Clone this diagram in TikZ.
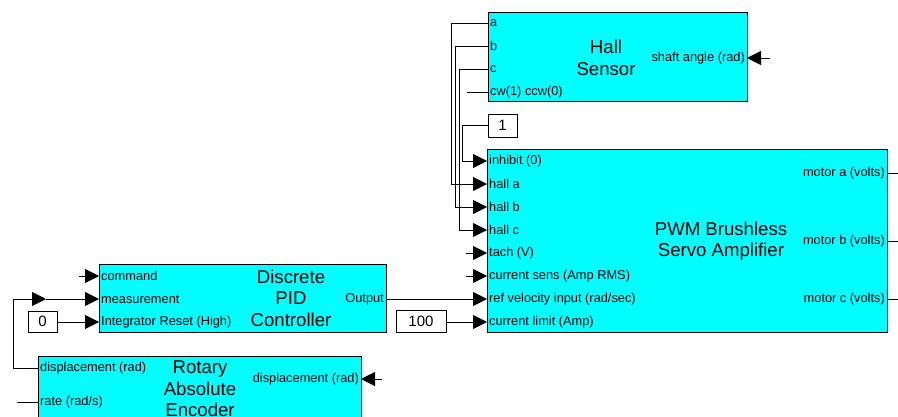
\documentclass[tikz,border=0pt]{standalone}
\usepackage{fontspec}
\setmainfont{Liberation Sans}
\usetikzlibrary{arrows.meta}
\definecolor{blockcyan}{RGB}{0,255,255}
\begin{document}
\begin{tikzpicture}[x=1pt,y=-1pt,
  block/.style={draw=black, fill=blockcyan, line width=0.9pt, inner sep=0pt, anchor=north west},
  constbox/.style={draw=black, fill=white, line width=0.9pt, inner sep=0pt, font=\fontsize{15}{17}\selectfont},
  plabel/.style={inner sep=0pt, font=\fontsize{12.8}{14}\selectfont},
  btitle/.style={inner sep=0pt, align=center, font=\fontsize{18.6}{21.5}\selectfont},
  wire/.style={draw=black, line width=0.9pt},
  inarrow/.style={wire, -{Triangle[length=14pt,width=14pt]}}
]
\clip (0,0) rectangle (898,416);
\useasboundingbox (0,0) rectangle (898,416);
\fill[white] (0,0) rectangle (898,416);

% ---------- Hall Sensor ----------
\node[block, minimum width=259pt, minimum height=89pt] (hall) at (488,12) {};
\node[btitle] (hallT) at (606,58) {Hall\\Sensor};
\coordinate (hA) at (488,23);
\coordinate (hB) at (488,46);
\coordinate (hC) at (488,69);
\coordinate (hCW) at (488,92);
\coordinate (hS) at (747,58);
\node[plabel, anchor=west] (lhA) at ([xshift=2pt]hA) {a};
\node[plabel, anchor=west] (lhB) at ([xshift=2pt]hB) {b};
\node[plabel, anchor=west] (lhC) at ([xshift=2pt]hC) {c};
\node[plabel, anchor=west] (lhCW) at ([xshift=2pt]hCW) {cw(1) ccw(0)};
\node[plabel, anchor=east] (lhS) at ([xshift=-2pt]hS) {shaft angle (rad)};

% ---------- PWM amplifier ----------
\node[block, minimum width=400pt, minimum height=183pt] (pwm) at (487,149) {};
\node[btitle] (pwmT) at (721,241) {PWM Brushless\\Servo Amplifier};
\coordinate (pInh) at (487,161);
\coordinate (pHa) at (487,184);
\coordinate (pHb) at (487,207);
\coordinate (pHc) at (487,230);
\coordinate (pTach) at (487,253);
\coordinate (pCs) at (487,276);
\coordinate (pRef) at (487,299);
\coordinate (pLim) at (487,322);
\coordinate (pMa) at (887,173);
\coordinate (pMb) at (887,241);
\coordinate (pMc) at (887,299);
\node[plabel, anchor=west] at ([xshift=2pt]pInh) {inhibit (0)};
\node[plabel, anchor=west] at ([xshift=2pt]pHa) {hall a};
\node[plabel, anchor=west] at ([xshift=2pt]pHb) {hall b};
\node[plabel, anchor=west] at ([xshift=2pt]pHc) {hall c};
\node[plabel, anchor=west] at ([xshift=2pt]pTach) {tach (V)};
\node[plabel, anchor=west] at ([xshift=2pt]pCs) {current sens (Amp RMS)};
\node[plabel, anchor=west] at ([xshift=2pt]pRef) {ref velocity input (rad/sec)};
\node[plabel, anchor=west] at ([xshift=2pt]pLim) {current limit (Amp)};
\node[plabel, anchor=east] at ([xshift=-2pt]pMa) {motor a (volts)};
\node[plabel, anchor=east] at ([xshift=-2pt]pMb) {motor b (volts)};
\node[plabel, anchor=east] at ([xshift=-2pt]pMc) {motor c (volts)};

% ---------- PID ----------
\node[block, minimum width=287pt, minimum height=68pt] (pid) at (99,264) {};
\node[btitle] (pidT) at (291,298) {Discrete\\PID\\Controller};
\coordinate (dC) at (99,276);
\coordinate (dM) at (99,299);
\coordinate (dR) at (99,322);
\coordinate (dO) at (386,299);
\node[plabel, anchor=west] at ([xshift=2pt]dC) {command};
\node[plabel, anchor=west] at ([xshift=2pt]dM) {measurement};
\node[plabel, anchor=west] at ([xshift=2pt]dR) {Integrator Reset (High)};
\node[plabel, anchor=east] at ([xshift=-2pt]dO) {Output};

% ---------- Encoder ----------
\node[block, minimum width=323pt, minimum height=80pt] (enc) at (38,356) {};
\node[btitle] (encT) at (200,389) {Rotary\\Absolute\\Encoder};
\coordinate (eD) at (38,368);
\coordinate (eR) at (38,402);
\coordinate (eIn) at (361,379);
\node[plabel, anchor=west] at ([xshift=2pt]eD) {displacement (rad)};
\node[plabel, anchor=west] at ([xshift=2pt]eR) {rate (rad/s)};
\node[plabel, anchor=east] at ([xshift=-2pt]eIn) {displacement (rad)};

% ---------- Constants ----------
\node[constbox, minimum width=29pt, minimum height=23pt] (one) at (502.5,125.5) {1};
\node[constbox, minimum width=50pt, minimum height=22pt] (hundred) at (421,321) {100};
\node[constbox, minimum width=29pt, minimum height=21pt] (zero) at (42.5,321.5) {0};

% ---------- free wire ends ----------
\coordinate (cwStub) at (467,92);
\coordinate (shaftIn) at (770,58);
\coordinate (tachStub) at (466,253);
\coordinate (csStub) at (466,276);
\coordinate (cmdStub) at (79,276);
\coordinate (rateStub) at (17,402);
\coordinate (encInStub) at (382,379);
\coordinate (maEnd) at (898,173);
\coordinate (mbEnd) at (898,241);
\coordinate (mcEnd) at (898,299);
\coordinate (fbMid) at (46,299);

% ---------- connectors ----------
\draw[inarrow] (hA) -- (451,23) |- (pHa);
\draw[inarrow] (hB) -- (455,46) |- (pHb);
\draw[inarrow] (hC) -- (459,69) |- (pHc);
\draw[wire] (cwStub) -- (hCW);
\draw[inarrow] (shaftIn) -- (hS);
\draw[inarrow] (one.west |- 0,125) -- (462,125) |- (pInh);
\draw[inarrow] (tachStub) -- (pTach);
\draw[inarrow] (csStub) -- (pCs);
\draw[inarrow] (dO) -- (pRef);
\draw[inarrow] (hundred.east |- 0,322) -- (pLim);
\draw[wire] (pMa) -- (maEnd);
\draw[wire] (pMb) -- (mbEnd);
\draw[wire] (pMc) -- (mcEnd);
\draw[inarrow] (cmdStub) -- (dC);
\draw[inarrow] (eD) -- (13,368) |- (fbMid);
\draw[inarrow] (fbMid) -- (dM);
\draw[inarrow] (zero.east |- 0,322) -- (dR);
\draw[wire] (rateStub) -- (eR);
\draw[inarrow] (encInStub) -- (eIn);
\end{tikzpicture}
\end{document}
